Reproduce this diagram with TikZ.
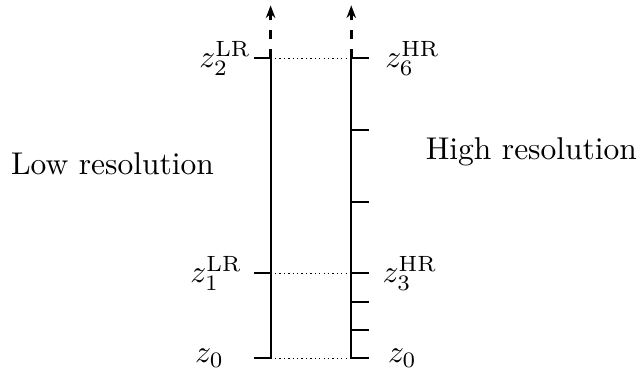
\documentclass[tikz,border=0pt]{standalone}
\usetikzlibrary{arrows.meta}
\begin{document}
\begin{tikzpicture}[>={Stealth[length=4pt,width=3pt]},semithick]
  \useasboundingbox (-3.02,-0.21) rectangle (4.1,4.0);
  % low resolution levels
  \coordinate (lr0) at (0,0);
  \coordinate (lr1) at (0,0.95);
  \coordinate (lr2) at (0,3.35);
  \coordinate (lrtop) at (0,3.94);
  % high resolution levels
  \coordinate (hr0) at (0.9,0);
  \coordinate (hr3) at (0.9,0.95);
  \coordinate (hr6) at (0.9,3.35);
  \coordinate (hrtop) at (0.9,3.94);
  \draw (lr0) -- (lr2);
  \draw[thick,dashed,->] (lr2) -- (lrtop);
  \draw (hr0) -- (hr6);
  \draw[thick,dashed,->] (hr6) -- (hrtop);
  \foreach \y in {0,0.95,3.35}
    \draw (-0.18,\y) -- (0,\y);
  \foreach \y in {0,0.317,0.633,0.95,1.75,2.55,3.35}
    \draw (0.9,\y) -- (1.1,\y);
  \draw[thin,densely dotted] (lr0) -- (hr0);
  \draw[thin,densely dotted] (lr1) -- (hr3);
  \draw[thin,densely dotted] (lr2) -- (hr6);
  \node[anchor=east,inner sep=0pt] (zl0) at (-0.51,0) {$z_0$};
  \node[anchor=east,inner sep=0pt] (zl1) at (-0.31,0.95) {$z_1^{\mathrm{LR}}$};
  \node[anchor=east,inner sep=0pt] (zl2) at (-0.21,3.35) {$z_2^{\mathrm{LR}}$};
  \node[anchor=west,inner sep=0pt] (zh0) at (1.30,0) {$z_0$};
  \node[anchor=west,inner sep=0pt] (zh3) at (1.24,0.95) {$z_3^{\mathrm{HR}}$};
  \node[anchor=west,inner sep=0pt] (zh6) at (1.27,3.35) {$z_6^{\mathrm{HR}}$};
  \node (low) at (-1.765,2.17) {Low resolution};
  \node (high) at (2.91,2.305) {High resolution};
\end{tikzpicture}
\end{document}
